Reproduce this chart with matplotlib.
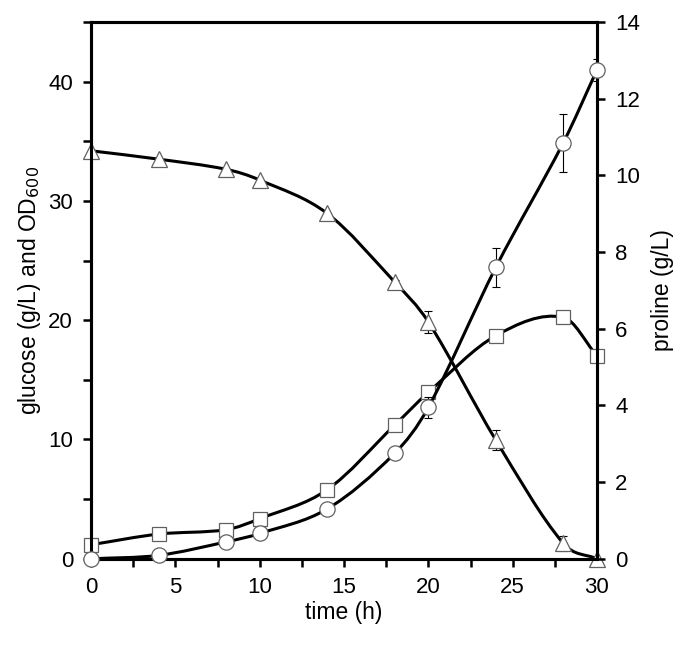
import numpy as np
import matplotlib
matplotlib.use('Agg')
import matplotlib.pyplot as plt
from matplotlib.path import Path
from matplotlib.patches import PathPatch
from matplotlib.ticker import MultipleLocator

plt.rcParams['font.family'] = ['Liberation Sans', 'DejaVu Sans']

# sampling times (h)
time = [0, 4, 8, 10, 14, 18, 20, 24, 28, 30]

# glucose (g/L), left axis - triangles
glucose = [34.2, 33.5, 32.65, 31.75, 28.95, 23.2, 19.85, 9.95, 1.3, 0.0]
glucose_err = [0, 0, 0, 0, 0, 0.15, 0.9, 0.85, 0.65, 0]

# OD600, left axis - squares
od600 = [1.18, 2.07, 2.44, 3.36, 5.79, 11.2, 13.95, 18.7, 20.25, 17.0]

# proline (g/L), right axis - circles
proline = [0.0, 0.09, 0.44, 0.66, 1.3, 2.75, 3.95, 7.6, 10.85, 12.75]
proline_err = [0, 0, 0, 0, 0, 0, 0.28, 0.5, 0.75, 0.28]


def smooth_path(x, y):
    # cubic bezier through the points, tangents from neighbours
    x = np.asarray(x, float)
    y = np.asarray(y, float)
    n = len(x)
    m = np.zeros(n)
    m[0] = (y[1] - y[0]) / (x[1] - x[0])
    m[-1] = (y[-1] - y[-2]) / (x[-1] - x[-2])
    for i in range(1, n - 1):
        m[i] = (y[i + 1] - y[i - 1]) / (x[i + 1] - x[i - 1])
    verts = [(x[0], y[0])]
    codes = [Path.MOVETO]
    for i in range(n - 1):
        d = (x[i + 1] - x[i]) / 3.0
        verts += [(x[i] + d, y[i] + d * m[i]),
                  (x[i + 1] - d, y[i + 1] - d * m[i + 1]),
                  (x[i + 1], y[i + 1])]
        codes += [Path.CURVE4] * 3
    return Path(verts, codes)


fig = plt.figure(figsize=(6.85, 6.46), dpi=100)
ax = fig.add_axes([0.133, 0.135, 0.7385, 0.831])
ax2 = ax.twinx()

lw = 2.2
edge = '#606060'

ax.add_patch(PathPatch(smooth_path(time, glucose), fill=False, lw=lw, color='black', zorder=2))
ax.add_patch(PathPatch(smooth_path(time, od600), fill=False, lw=lw, color='black', zorder=2))
ax.errorbar(time, glucose, yerr=glucose_err, fmt='none', ecolor='black',
            elinewidth=0.8, capsize=3, capthick=0.8, zorder=3)
ax.plot(time, glucose, linestyle='none', marker='^', markersize=11,
        markerfacecolor='white', markeredgecolor=edge, markeredgewidth=0.9,
        zorder=4, clip_on=False)
ax.plot(time, od600, linestyle='none', marker='s', markersize=10,
        markerfacecolor='white', markeredgecolor=edge, markeredgewidth=0.9,
        zorder=4, clip_on=False)

ax2.add_patch(PathPatch(smooth_path(time, proline), fill=False, lw=lw, color='black', zorder=2))
ax2.errorbar(time, proline, yerr=proline_err, fmt='none', ecolor='black',
             elinewidth=0.8, capsize=3, capthick=0.8, zorder=3)
ax2.plot(time, proline, linestyle='none', marker='o', markersize=11,
         markerfacecolor='white', markeredgecolor=edge, markeredgewidth=0.9,
         zorder=4, clip_on=False)

ax.set_xlim(0, 30)
ax.set_ylim(0, 45)
ax2.set_ylim(0, 14)

ax.xaxis.set_major_locator(MultipleLocator(5))
ax.xaxis.set_minor_locator(MultipleLocator(2.5))
ax.set_yticks([0, 10, 20, 30, 40])
ax.yaxis.set_minor_locator(MultipleLocator(5))
ax2.set_yticks(np.arange(0, 15, 2))

for a in (ax, ax2):
    for s in a.spines.values():
        s.set_linewidth(2.2)
    a.tick_params(which='both', direction='out', width=1.8, length=6,
                  labelsize=16, pad=7)

ax.set_xlabel('time (h)', fontsize=16.5, labelpad=2)
ax.set_ylabel('glucose (g/L) and OD$_{600}$', fontsize=16.5, labelpad=4)
ax2.set_ylabel('proline (g/L)', fontsize=16.5, labelpad=8)

fig.savefig('out.png', dpi=100)
